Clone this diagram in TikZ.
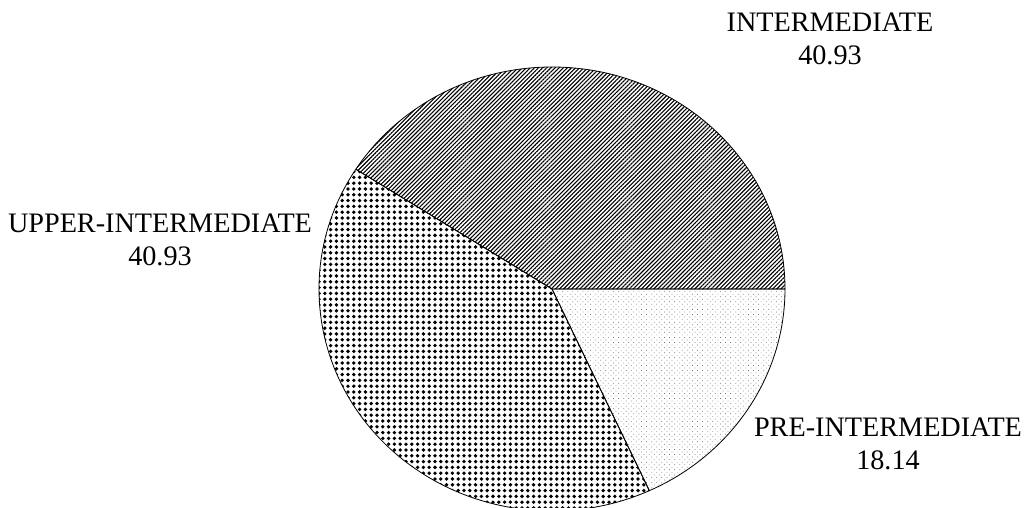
\documentclass[tikz,border=0pt]{standalone}
\usepackage{fontspec}
\setmainfont{Liberation Serif}
\usetikzlibrary{patterns.meta,calc}
\begin{document}
\begin{tikzpicture}[x=1pt,y=-1pt,
  slice/.style={draw=black,line width=0.8pt,line join=round},
  lbl/.style={align=center,inner sep=0pt,font=\fontsize{28.2}{33}\selectfont}]
\useasboundingbox (0,0) rectangle (1029,508);
\coordinate (c) at (552,289);
% INTERMEDIATE slice
\path[slice,pattern={Lines[angle=45,distance=2.9pt,line width=1.1pt]}]
  (c) -- ($(c)+(0:233pt and 222pt)$) arc[start angle=0,end angle=147.35,x radius=233pt,y radius=222pt] -- cycle;
% UPPER-INTERMEDIATE slice
\path[slice,pattern={Dots[distance=5.8pt,radius=1.9pt]}]
  (c) -- ($(c)+(147.35:233pt and 222pt)$) arc[start angle=147.35,end angle=294.7,x radius=233pt,y radius=222pt] -- cycle;
% PRE-INTERMEDIATE slice
\path[slice,pattern={Dots[distance=3.6pt,radius=0.5pt,angle=45]},pattern color=black!55]
  (c) -- ($(c)+(294.7:233pt and 222pt)$) arc[start angle=294.7,end angle=360,x radius=233pt,y radius=222pt] -- cycle;
% labels
\node[lbl] (lint) at (830,39) {INTERMEDIATE\\40.93};
\node[lbl] (lup) at (160,240) {UPPER-INTERMEDIATE\\40.93};
\node[lbl] (lpre) at (888,444) {PRE-INTERMEDIATE\\18.14};
\end{tikzpicture}
\end{document}
